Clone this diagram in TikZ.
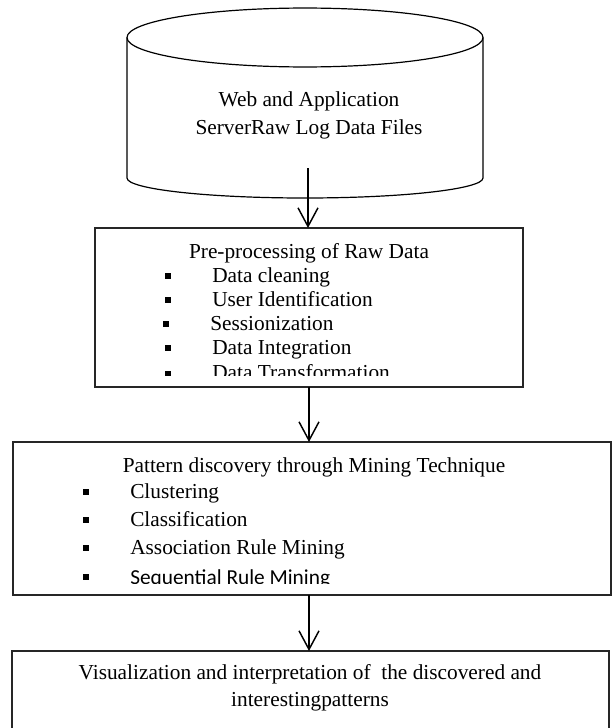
\documentclass[tikz,border=0pt]{standalone}
\usepackage{fontspec}
\setmainfont{Liberation Serif}
\newfontfamily\calibri{Carlito}
\usetikzlibrary{arrows.meta,fit}
\begin{document}
\begin{tikzpicture}[x=0.75pt,y=-0.75pt,
  every node/.style={font=\fontsize{16}{19}\selectfont, inner sep=0pt},
  panel/.style={draw=black!85, line width=1.1pt, inner sep=0pt, outer sep=0pt},
  caption/.style={anchor=base},
  entry/.style={anchor=base west},
  sqbullet/.style={fill=black, minimum size=3.9pt, inner sep=0pt},
  flow/.style={draw=black, line width=1.1pt, -{Straight Barb[length=14pt,width=15pt]}},
  drum/.style={draw=black, line width=0.9pt}]
\clip (0,0) rectangle (614,728);

% log storage drum
\draw[drum] (127,37.5) -- (127,178)
  arc[start angle=180, end angle=360, x radius=133.5pt, y radius=15pt] -- (483,37.5);
\draw[drum] (305,37.5) ellipse[x radius=133.5pt, y radius=22.1pt];
\node[caption] (logsA) at (309,106) {Web and Application};
\node[caption] (logsB) at (309,134) {ServerRaw Log Data Files};
\coordinate (logsOut) at (308,168);

% pre-processing stage
\coordinate (preNW) at (95,228);
\coordinate (preSE) at (523,387);
\node[panel, fit=(preNW)(preSE)] (pre) {};
\begin{scope}
  \clip (95,228) rectangle (523,375);
  \node[caption] (preTitle) at (309,258) {Pre-processing of Raw Data};
  \node[sqbullet] (pb1) at (168,276) {};
  \node[sqbullet] (pb2) at (168,300) {};
  \node[sqbullet] (pb3) at (166,324) {};
  \node[sqbullet] (pb4) at (168,348) {};
  \node[sqbullet] (pb5) at (168,374) {};
  \node[entry] (pi1) at (212,282) {Data cleaning};
  \node[entry] (pi2) at (212,306) {User Identification};
  \node[entry] (pi3) at (210,330) {Sessionization};
  \node[entry] (pi4) at (212,354) {Data Integration};
  \node[entry] (pi5) at (212,379) {Data Transformation};
\end{scope}

% mining stage
\coordinate (mineNW) at (13,442);
\coordinate (mineSE) at (611,595);
\node[panel, fit=(mineNW)(mineSE)] (mine) {};
\begin{scope}
  \clip (13,442) rectangle (611,583);
  \node[caption] (mineTitle) at (314,472) {Pattern discovery through Mining Technique};
  \node[sqbullet] (mb1) at (86,492) {};
  \node[sqbullet] (mb2) at (86,520) {};
  \node[sqbullet] (mb3) at (86,548) {};
  \node[sqbullet] (mb4) at (86,577) {};
  \node[entry] (mi1) at (130,498) {Clustering};
  \node[entry] (mi2) at (130,526) {Classification};
  \node[entry] (mi3) at (130,554) {Association Rule Mining};
  \node[entry, font=\calibri\fontsize{16}{19}\selectfont] (mi4) at (130,584) {Sequential Rule Mining};
\end{scope}

% visualisation stage
\coordinate (visNW) at (12,651);
\coordinate (visSE) at (609,760);
\node[panel, fit=(visNW)(visSE)] (vis) {};
\node[caption] (visA) at (310,679) {Visualization and interpretation of~ the discovered and};
\node[caption] (visB) at (310,706) {interestingpatterns};

% flow between stages
\draw[flow] (logsOut) -- (logsOut |- pre.north);
\draw[flow] (pre.south) -- (pre.south |- mine.north);
\draw[flow] (pre.south |- mine.south) -- (pre.south |- vis.north);
\end{tikzpicture}
\end{document}
